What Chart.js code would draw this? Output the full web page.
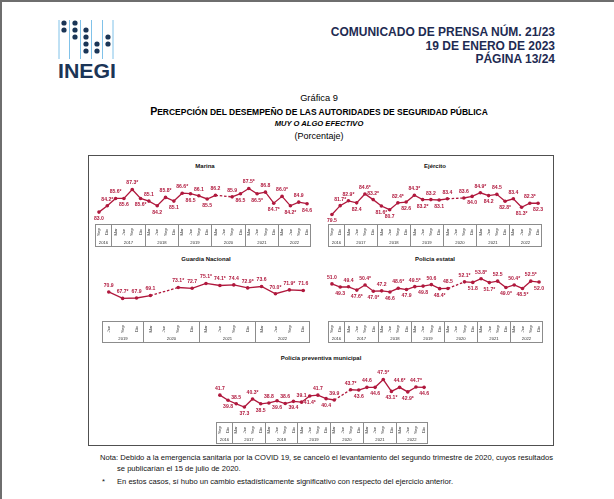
<!DOCTYPE html>
<html lang="es"><head><meta charset="utf-8">
<script src="https://cdn.jsdelivr.net/npm/chart.js@4.4.1/dist/chart.umd.min.js"></script>
<style>
html,body{margin:0;padding:0;background:#fff}
body{width:614px;height:499px;position:relative;overflow:hidden;font-family:"Liberation Sans",Arial,Helvetica,sans-serif;color:#000}
#edge{position:absolute;left:0;top:0;width:612px;height:497px;border-top:2px solid #6e6e6e;border-left:2px solid #6e6e6e}
.t{position:absolute;white-space:nowrap;line-height:1}
.c{transform:translate(-50%,-50%)}
.r{transform:translate(0,-50%);text-align:right}
.hdr{right:59px;font-weight:bold;font-size:12px;color:#1e2b52}
#box{position:absolute;left:88px;top:155px;width:464px;height:289px;border:1px solid #505050}
canvas{position:absolute}
.pt{font-weight:bold;font-size:6px;color:#111}
.note{font-size:7.6px;color:#111}
.sc{font-size:80%}
</style></head><body>
<div id="edge"></div>

<svg style="position:absolute;left:56px;top:18px" width="64" height="64" viewBox="0 0 64 64">
  <g stroke="#5fb3e3" stroke-width="0.8">
    <line x1="3" y1="2" x2="3" y2="41"/><line x1="13.5" y1="2" x2="13.5" y2="41"/>
    <line x1="24.5" y1="2" x2="24.5" y2="41"/><line x1="35.5" y1="2" x2="35.5" y2="41"/>
    <line x1="46.5" y1="2" x2="46.5" y2="41"/><line x1="57" y1="2" x2="57" y2="41"/>
  </g>
  <g fill="#1b3556">
    <circle cx="8" cy="5" r="2.6"/><circle cx="8" cy="12" r="2.6"/>
    <circle cx="19" cy="5" r="2.6"/><circle cx="19" cy="12" r="2.6"/><circle cx="19" cy="19" r="2.6"/>
    <circle cx="30" cy="12" r="2.6"/><circle cx="30" cy="19" r="2.6"/><circle cx="30" cy="26" r="2.6"/><circle cx="30" cy="33" r="2.6"/>
    <circle cx="41" cy="26" r="2.6"/><circle cx="41" cy="33" r="2.6"/>
    <circle cx="52" cy="19" r="2.6"/><circle cx="52" cy="26" r="2.6"/>
  </g>
  <text x="31" y="60" text-anchor="middle" font-family="Liberation Sans, Arial" font-weight="bold" font-size="21" fill="#1b3556" textLength="58" lengthAdjust="spacingAndGlyphs">INEGI</text>
</svg>

<div class="t r hdr" style="top:32px">COMUNICADO DE PRENSA NÚM. 21/23</div>
<div class="t r hdr" style="top:45.5px">19 DE ENERO DE 2023</div>
<div class="t r hdr" style="top:59px">PÁGINA 13/24</div>

<div class="t c" style="left:319px;top:99px;font-size:9.3px">Gráfica 9</div>
<div class="t c" style="left:319px;top:111px;font-size:10.6px;font-weight:bold">P<span class="sc">ERCEPCIÓN DEL DESEMPEÑO DE LAS AUTORIDADES DE SEGURIDAD PÚBLICA</span></div>
<div class="t c" style="left:319px;top:123.5px;font-size:7.6px;font-weight:bold;font-style:italic">MUY O ALGO EFECTIVO</div>
<div class="t c" style="left:319px;top:135.5px;font-size:9px">(Porcentaje)</div>

<div id="box"></div>
<div class="t c pt" style="left:205px;top:166px">Marina</div>
<div class="t c pt" style="left:435px;top:166px">Ejército</div>
<div class="t c pt" style="left:206px;top:259px">Guardia Nacional</div>
<div class="t c pt" style="left:435px;top:259px">Policía estatal</div>
<div class="t c pt" style="left:321px;top:358px">Policía preventiva municipal</div>

<canvas id="cMarina" width="220" height="77" style="left:93px;top:170px"></canvas>
<canvas id="cEjercito" width="218" height="77" style="left:326px;top:170px"></canvas>
<canvas id="cGuardia" width="212" height="80" style="left:100px;top:263px"></canvas>
<canvas id="cEstatal" width="219" height="80" style="left:326px;top:263px"></canvas>
<canvas id="cMunicipal" width="216" height="81" style="left:214px;top:363px"></canvas>

<div class="t note" style="left:100px;top:454px">Nota: Debido a la emergencia sanitaria por la COVID 19, se canceló el levantamiento del segundo trimestre de 2020, cuyos resultados</div>
<div class="t note" style="left:117px;top:464.5px">se publicarían el 15 de julio de 2020.</div>
<div class="t note" style="left:102px;top:477.5px">*</div>
<div class="t note" style="left:117px;top:477.5px">En estos casos, sí hubo un cambio estadísticamente significativo con respecto del ejercicio anterior.</div>

<script>
// ---- categories (quarters) and years ----
const quartersLong = ["Sep","Dic","Mar","Jun","Sep","Dic","Mar","Jun","Sep","Dic","Mar","Jun","Sep","Dic","Mar","Jun","Sep","Dic","Mar","Jun","Sep","Dic","Mar","Jun","Sep","Dic"];
const yearsLong = ["2016","2016","2017","2017","2017","2017","2018","2018","2018","2018","2019","2019","2019","2019","2020","2020","2020","2020","2021","2021","2021","2021","2022","2022","2022","2022"];
const quartersGN = ["Jun","Sep","Dic","Mar","Jun","Sep","Dic","Mar","Jun","Sep","Dic","Mar","Jun","Sep","Dic"];
const yearsGN = ["2019","2019","2019","2020","2020","2020","2020","2021","2021","2021","2021","2022","2022","2022","2022"];

// ---- series values (null = survey cancelled, 2nd quarter 2020) ----
const marina    = [83.0,84.2,85.6,85.6,87.3,85.6,85.1,84.2,85.8,85.1,86.6,86.5,86.1,85.5,86.2,null,85.9,86.5,87.5,86.5,86.8,84.7,86.0,84.2,84.9,84.6];
const ejercito  = [79.5,81.7,82.9,82.4,84.6,83.2,81.6,80.7,82.4,82.6,84.3,83.2,83.2,83.1,83.4,null,83.6,84.0,84.9,84.2,84.5,82.8,83.4,81.3,82.3,82.3];
const guardia   = [70.9,67.7,67.9,69.1,null,73.1,72.7,75.1,74.1,74.4,72.9,73.6,70.0,71.9,71.6];
const estatal   = [51.0,49.3,49.4,47.6,50.4,47.0,47.2,46.6,48.6,47.9,49.5,49.8,50.6,48.4,48.5,null,52.1,51.8,53.8,51.7,52.5,49.0,50.4,48.5,52.5,52.0];
const municipal = [41.7,39.8,38.5,37.3,40.3,38.5,38.8,39.6,38.6,39.4,39.1,41.4,41.7,40.4,39.9,null,43.7,43.6,44.6,44.6,47.5,43.1,44.6,42.9,44.7,44.6];

// ---- statistically significant change (*) ----
const marinaSig    = [0,1,1,0,1,1,0,0,1,0,1,0,0,0,0,0,0,0,1,1,0,1,1,1,0,0];
const ejercitoSig  = [0,1,1,0,1,1,1,0,1,0,1,1,0,0,0,0,0,0,1,0,0,1,0,1,1,0];
const guardiaSig   = [0,1,0,0,0,1,0,1,1,0,1,0,1,1,0];
const estatalSig   = [0,0,0,1,1,1,0,0,1,0,1,0,0,1,0,0,1,0,1,1,0,1,1,1,1,0];
const municipalSig = [0,0,0,0,1,0,0,0,0,0,0,1,0,0,0,0,1,0,0,0,1,1,1,1,1,0];

const RED = '#b0183d';
const FONT = '"Liberation Sans", Arial, sans-serif';

const groupAxis = {
  id: 'groupAxis',
  afterDraw(chart, args, o) {
    const {ctx, chartArea: ca, scales: {x}} = chart;
    const labels = chart.data.labels, yrs = o.years, n = labels.length;
    const top = Math.round(ca.bottom) + 0.5, h = o.height - 1;
    const L = Math.round(ca.left) + 0.5, R = Math.round(ca.right) - 0.5;
    ctx.save();
    ctx.strokeStyle = '#8c8c8c'; ctx.lineWidth = 1;
    ctx.strokeRect(L, top, R - L, h);
    ctx.fillStyle = '#333';
    ctx.font = '4.2px ' + FONT;
    ctx.textAlign = 'center'; ctx.textBaseline = 'middle';
    labels.forEach((lab, i) => {
      const px = x.getPixelForValue(i);
      ctx.save(); ctx.translate(px, top + 7.5); ctx.rotate(-Math.PI / 2);
      ctx.fillText(lab, 0, 0); ctx.restore();
    });
    let s = 0, left = L;
    ctx.font = '4.2px ' + FONT;
    for (let i = 1; i <= n; i++) {
      if (i === n || yrs[i] !== yrs[s]) {
        const right = i === n ? R : Math.round((x.getPixelForValue(i - 1) + x.getPixelForValue(i)) / 2) + 0.5;
        if (i !== n) { ctx.beginPath(); ctx.moveTo(right, top); ctx.lineTo(right, top + h); ctx.stroke(); }
        ctx.fillText(yrs[s], (left + right) / 2, top + h - 3.5);
        left = right; s = i;
      }
    }
    ctx.restore();
  }
};

const valueLabels = {
  id: 'valueLabels',
  afterDatasetsDraw(chart, args, o) {
    const {ctx} = chart;
    const meta = chart.getDatasetMeta(0);
    const vals = chart.data.datasets[0].data;
    ctx.save();
    ctx.fillStyle = RED; ctx.font = 'bold 5.1px ' + FONT;
    ctx.textAlign = 'center'; ctx.textBaseline = 'middle';
    meta.data.forEach((pt, i) => {
      const v = vals[i];
      if (v == null) return;
      const txt = v.toFixed(1) + (o.sig[i] ? '*' : '');
      const below = o.sides[i] === 'B';
      ctx.fillText(txt, pt.x, below ? pt.y + 6.5 : pt.y - 6.5);
    });
    ctx.restore();
  }
};

function makeChart(id, labels, years, values, sig, sides, yMin, yMax, axisH) {
  new Chart(document.getElementById(id), {
    type: 'line',
    data: {
      labels: labels,
      datasets: [{
        data: values,
        borderColor: RED, backgroundColor: RED,
        borderWidth: 1.3, pointRadius: 1.8, pointHoverRadius: 1.8, pointBorderWidth: 0,
        spanGaps: true, clip: false, tension: 0,
        segment: {
          borderDash: ctx => (values[ctx.p0DataIndex] == null || values[ctx.p1DataIndex] == null ||
            ctx.p1DataIndex - ctx.p0DataIndex > 1 || values[ctx.p1DataIndex - 1] == null) ? [2.5, 1.8] : undefined
        }
      }]
    },
    options: {
      responsive: false, animation: false,
      layout: {padding: {left: 0, right: 0, top: 0, bottom: axisH}},
      scales: {
        x: {type: 'category', offset: true, display: false},
        y: {display: false, min: yMin, max: yMax}
      },
      plugins: {
        legend: {display: false}, tooltip: {enabled: false}, title: {display: false},
        groupAxis: {years: years, height: axisH},
        valueLabels: {sig: sig, sides: sides}
      }
    },
    plugins: [groupAxis, valueLabels]
  });
}

makeChart('cMarina',    quartersLong, yearsLong, marina,    marinaSig,    'BAABABABABABABA-ABABABABAB', 80.74, 90.67, 23);
makeChart('cEjercito',  quartersLong, yearsLong, ejercito,  ejercitoSig,  'BAABAABBABABABA-ABABABABAB', 77.15, 90.1, 23);
makeChart('cGuardia',   quartersGN,   yearsGN,   guardia,   guardiaSig,   'AAAA-AAAAAAAAAA',            56.48, 84.36, 22);
makeChart('cEstatal',   quartersLong, yearsLong, estatal,   estatalSig,   'ABABABABABABABA-ABABABABAB', 30.74, 61.42, 22);
makeChart('cMunicipal', quartersLong, yearsLong, municipal, municipalSig, 'ABABABABABABABA-ABABABABAB', 31.74, 52.96, 22);
</script>
</body></html>
